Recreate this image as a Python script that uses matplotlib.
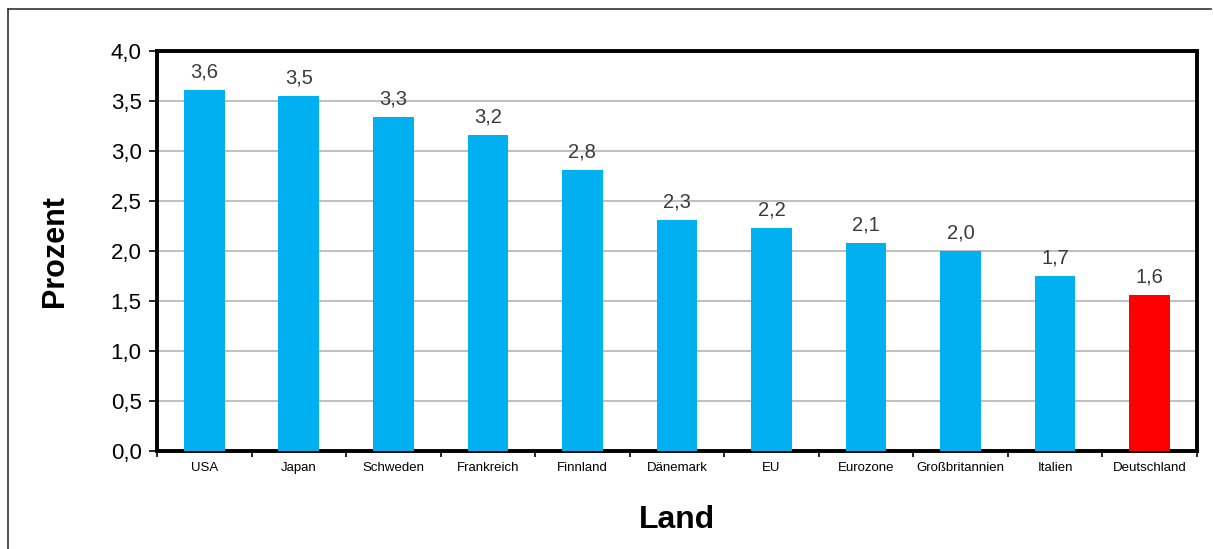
import matplotlib
matplotlib.use("Agg")
import matplotlib.pyplot as plt
import numpy as np
from matplotlib.lines import Line2D

plt.rcParams["font.family"] = ["Liberation Sans", "DejaVu Sans"]

countries = ["USA", "Japan", "Schweden", "Frankreich", "Finnland", "Dänemark",
             "EU", "Eurozone", "Großbritannien", "Italien", "Deutschland"]
values = [3.61, 3.55, 3.34, 3.16, 2.81, 2.31, 2.23, 2.08, 2.00, 1.75, 1.56]
value_labels = ["3,6", "3,5", "3,3", "3,2", "2,8", "2,3", "2,2", "2,1", "2,0", "1,7", "1,6"]
highlight = "Deutschland"

BLUE = "#00B0F0"
RED = "#FF0000"

fig = plt.figure(figsize=(12.13, 5.49), dpi=100)
ax = fig.add_axes([0.1294, 0.1785, 0.8574, 0.7286])

x = np.arange(len(countries))
colors = [RED if c == highlight else BLUE for c in countries]
ax.bar(x, values, width=0.43, color=colors, zorder=3)

for xi, v, lbl in zip(x, values, value_labels):
    ax.text(xi, v + 0.09, lbl, ha="center", va="bottom", fontsize=14.5, color="#3a3a3a")

ax.set_xlim(-0.5, len(countries) - 0.5)
ax.set_ylim(0, 4.0)
yt = np.arange(0, 4.01, 0.5)
ax.set_yticks(yt)
ax.set_yticklabels([f"{t:.1f}".replace(".", ",") for t in yt], fontsize=16)
ax.yaxis.grid(True, color="#B4B4B4", linewidth=1.2, zorder=0)

ax.set_xticks(x)
ax.set_xticklabels(countries, fontsize=9.5)
ax.tick_params(axis="x", which="major", length=0, pad=8)
ax.set_xticks(np.arange(-0.5, len(countries), 1.0), minor=True)
ax.tick_params(axis="x", which="minor", length=4, width=1.2, direction="out")
ax.tick_params(axis="y", length=6, width=1.2, direction="out", pad=5)

for s in ax.spines.values():
    s.set_linewidth(2.8)
    s.set_color("black")

ax.set_ylabel("Prozent", fontsize=22, fontweight="bold", labelpad=29)
ax.set_xlabel("Land", fontsize=23, fontweight="bold", labelpad=22)

# outer chart frame (top and left edges visible)
fig.add_artist(Line2D([0.0066, 0.9984], [0.9836, 0.9836], color="#333333",
                      linewidth=1.2, transform=fig.transFigure))
fig.add_artist(Line2D([0.0066, 0.0066], [0.0, 0.9836], color="#333333",
                      linewidth=1.2, transform=fig.transFigure))

fig.savefig("out.png", dpi=100)
plt.close(fig)
